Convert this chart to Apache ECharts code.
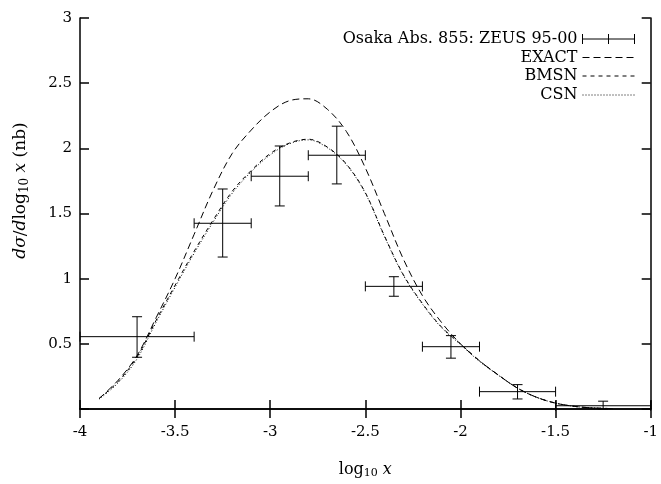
<!DOCTYPE html>
<html>
<head>
<meta charset="utf-8">
<script src="https://cdn.jsdelivr.net/npm/echarts@6/dist/echarts.min.js"></script>
<style>
html,body{margin:0;padding:0;background:#fff;}
#chart{width:661px;height:484px;}
</style>
</head>
<body>
<div id="chart"></div>
<script>
// ---- data ----
const xCenters = [-3.7, -3.25, -2.95, -2.65, -2.35, -2.05, -1.7, -1.25];
const xLow     = [-4.0, -3.4, -3.1, -2.8, -2.5, -2.2, -1.9, -1.5];
const xHigh    = [-3.4, -3.1, -2.8, -2.5, -2.2, -1.9, -1.5, -1.0];
const yValues  = [0.555, 1.425, 1.786, 1.947, 0.941, 0.478, 0.133, 0.025];
const yLow     = [0.397, 1.166, 1.558, 1.727, 0.865, 0.390, 0.077, 0.0];
const yHigh    = [0.708, 1.688, 2.018, 2.170, 1.015, 0.563, 0.187, 0.060];

const theoryX = [-3.9,-3.8,-3.7,-3.6,-3.5,-3.4,-3.3,-3.2,-3.1,-3.0,-2.9,-2.8,-2.7,-2.6,-2.5,-2.4,-2.3,-2.2,-2.1,-2.0,-1.9,-1.8,-1.7,-1.6,-1.5,-1.4,-1.3,-1.2];
const exactY  = [0.08,0.22,0.41,0.70,1.00,1.34,1.68,1.96,2.14,2.28,2.365,2.38,2.30,2.13,1.85,1.50,1.15,0.87,0.665,0.50,0.37,0.26,0.16,0.09,0.045,0.02,0.008,0.003];
const bmsnY   = [0.08,0.21,0.40,0.68,0.95,1.21,1.45,1.67,1.83,1.96,2.04,2.07,2.01,1.88,1.66,1.33,1.03,0.81,0.63,0.50,0.37,0.26,0.16,0.09,0.045,0.02,0.008,0.003];
const csnY    = [0.075,0.20,0.385,0.665,0.935,1.195,1.435,1.655,1.82,1.95,2.035,2.065,2.005,1.875,1.655,1.325,1.025,0.805,0.625,0.495,0.365,0.258,0.16,0.09,0.045,0.02,0.008,0.003];

const xTicks = [-4, -3.5, -3, -2.5, -2, -1.5, -1];
const yTicks = [0.5, 1, 1.5, 2, 2.5, 3];

const names = ['Osaka Abs. 855: ZEUS 95-00', 'EXACT', 'BMSN', 'CSN'];

// ---- chart ----
const FONT = 'DejaVu Serif';
const chart = echarts.init(document.getElementById('chart'), null, {renderer: 'canvas'});

const pointData = xCenters.map((x, i) => [x, yValues[i], xLow[i], xHigh[i], yLow[i], yHigh[i]]);
const zip = (xs, ys) => xs.map((x, i) => [x, ys[i]]);

const axisLine = {show: true, lineStyle: {color: '#000', width: 1.5}};
const tickIn = {show: true, inside: true, length: 9, lineStyle: {color: '#000', width: 1.5}};

function renderErr(params, api) {
  const x = api.value(0), y = api.value(1);
  const xl = api.value(2), xh = api.value(3), yl = api.value(4), yh = api.value(5);
  const c = api.coord([x, y]);
  const pl = api.coord([xl, y]), ph = api.coord([xh, y]);
  const pb = api.coord([x, yl]), pt = api.coord([x, yh]);
  const cap = 5;
  const st = {stroke: '#000', lineWidth: 1};
  const L = (x1, y1, x2, y2) => ({type: 'line', shape: {x1, y1, x2, y2}, style: st});
  return {type: 'group', children: [
    L(pl[0], c[1], ph[0], c[1]),
    L(pl[0], c[1] - cap, pl[0], c[1] + cap),
    L(ph[0], c[1] - cap, ph[0], c[1] + cap),
    L(c[0], pb[1], c[0], pt[1]),
    L(c[0] - cap, pb[1], c[0] + cap, pb[1]),
    L(c[0] - cap, pt[1], c[0] + cap, pt[1])
  ]};
}

function legendFor(item, top) {
  return {
    show: true, orient: 'vertical', align: 'right', right: 26, top: top, padding: 0,
    itemWidth: 52, itemHeight: 10, itemGap: 0,
    textStyle: {fontFamily: FONT, fontSize: 16, color: '#000'},
    lineStyle: {width: 1},
    data: [item], selectedMode: false
  };
}
const hideSym = {opacity: 0, borderWidth: 0};

const option = {
  animation: false,
  backgroundColor: '#fff',
  textStyle: {fontFamily: FONT},
  grid: {left: 80, right: 8, top: 18, bottom: 74.5, containLabel: false},
  legend: [
    legendFor({name: names[0], icon: 'path://M0,5L52,5M0,0L0,10M52,0L52,10M26,0L26,10', itemStyle: {color: 'rgba(0,0,0,0)', borderColor: '#000', borderWidth: 1}}, 31),
    legendFor({name: names[1], itemStyle: hideSym, lineStyle: {width: 1, type: [7, 4], color: '#000'}}, 49.5),
    legendFor({name: names[2], itemStyle: hideSym, lineStyle: {width: 1, type: [4, 4], color: '#000'}}, 68),
    legendFor({name: names[3], itemStyle: hideSym, lineStyle: {width: 1, type: [1, 2], color: '#000'}}, 87)
  ],
  xAxis: [{
    type: 'value', min: -4, max: -1, interval: 0.5, position: 'bottom',
    axisLine: axisLine, axisTick: tickIn, splitLine: {show: false},
    axisLabel: {color: '#000', fontFamily: FONT, fontSize: 15, margin: 16,
      formatter: v => xTicks.includes(+v.toFixed(2)) ? String(v) : ''},
    name: 'log{s|10}{i| x}', nameLocation: 'middle', nameGap: 51,
    nameTextStyle: {color: '#000', fontFamily: FONT, fontSize: 16,
      rich: {s: {fontSize: 11, fontFamily: FONT, padding: [8, 0, 0, 0]}, i: {fontStyle: 'italic', fontFamily: FONT, fontSize: 16}}}
  }, {
    type: 'value', min: -4, max: -1, interval: 0.5, position: 'top',
    axisLine: axisLine, axisTick: tickIn, axisLabel: {show: false}, splitLine: {show: false}
  }],
  yAxis: [{
    type: 'value', min: 0, max: 3, interval: 0.5, position: 'left',
    axisLine: axisLine, axisTick: tickIn, splitLine: {show: false},
    axisLabel: {color: '#000', fontFamily: FONT, fontSize: 15, margin: 8,
      formatter: v => yTicks.includes(+v.toFixed(2)) ? String(v) : ''},
    name: '{i|dσ}/{i|d}log{s|10}{i| x} (nb)', nameLocation: 'middle', nameGap: 49, nameRotate: 90,
    nameTextStyle: {color: '#000', fontFamily: FONT, fontSize: 17, padding: [0, 0, 0, 46],
      rich: {s: {fontSize: 12, fontFamily: FONT, padding: [8, 0, 0, 0]}, i: {fontStyle: 'italic', fontFamily: FONT, fontSize: 17}}}
  }, {
    type: 'value', min: 0, max: 3, interval: 0.5, position: 'right',
    axisLine: axisLine, axisTick: tickIn, axisLabel: {show: false}, splitLine: {show: false}
  }],
  series: [
    {name: names[0], type: 'custom', renderItem: renderErr, data: pointData,
      encode: {x: [0, 2, 3], y: [1, 4, 5]}, itemStyle: {color: '#000'}, z: 5},
    {name: names[1], type: 'line', data: zip(theoryX, exactY), smooth: 0.35, symbol: 'none',
      lineStyle: {color: '#000', width: 1, type: [7, 4]}, itemStyle: {color: '#000'}},
    {name: names[2], type: 'line', data: zip(theoryX, bmsnY), smooth: 0.35, symbol: 'none',
      lineStyle: {color: '#000', width: 1, type: [4, 4]}, itemStyle: {color: '#000'}},
    {name: names[3], type: 'line', data: zip(theoryX, csnY), smooth: 0.35, symbol: 'none',
      lineStyle: {color: '#000', width: 1, type: [1, 2]}, itemStyle: {color: '#000'}}
  ]
};
chart.setOption(option);
</script>
</body>
</html>
